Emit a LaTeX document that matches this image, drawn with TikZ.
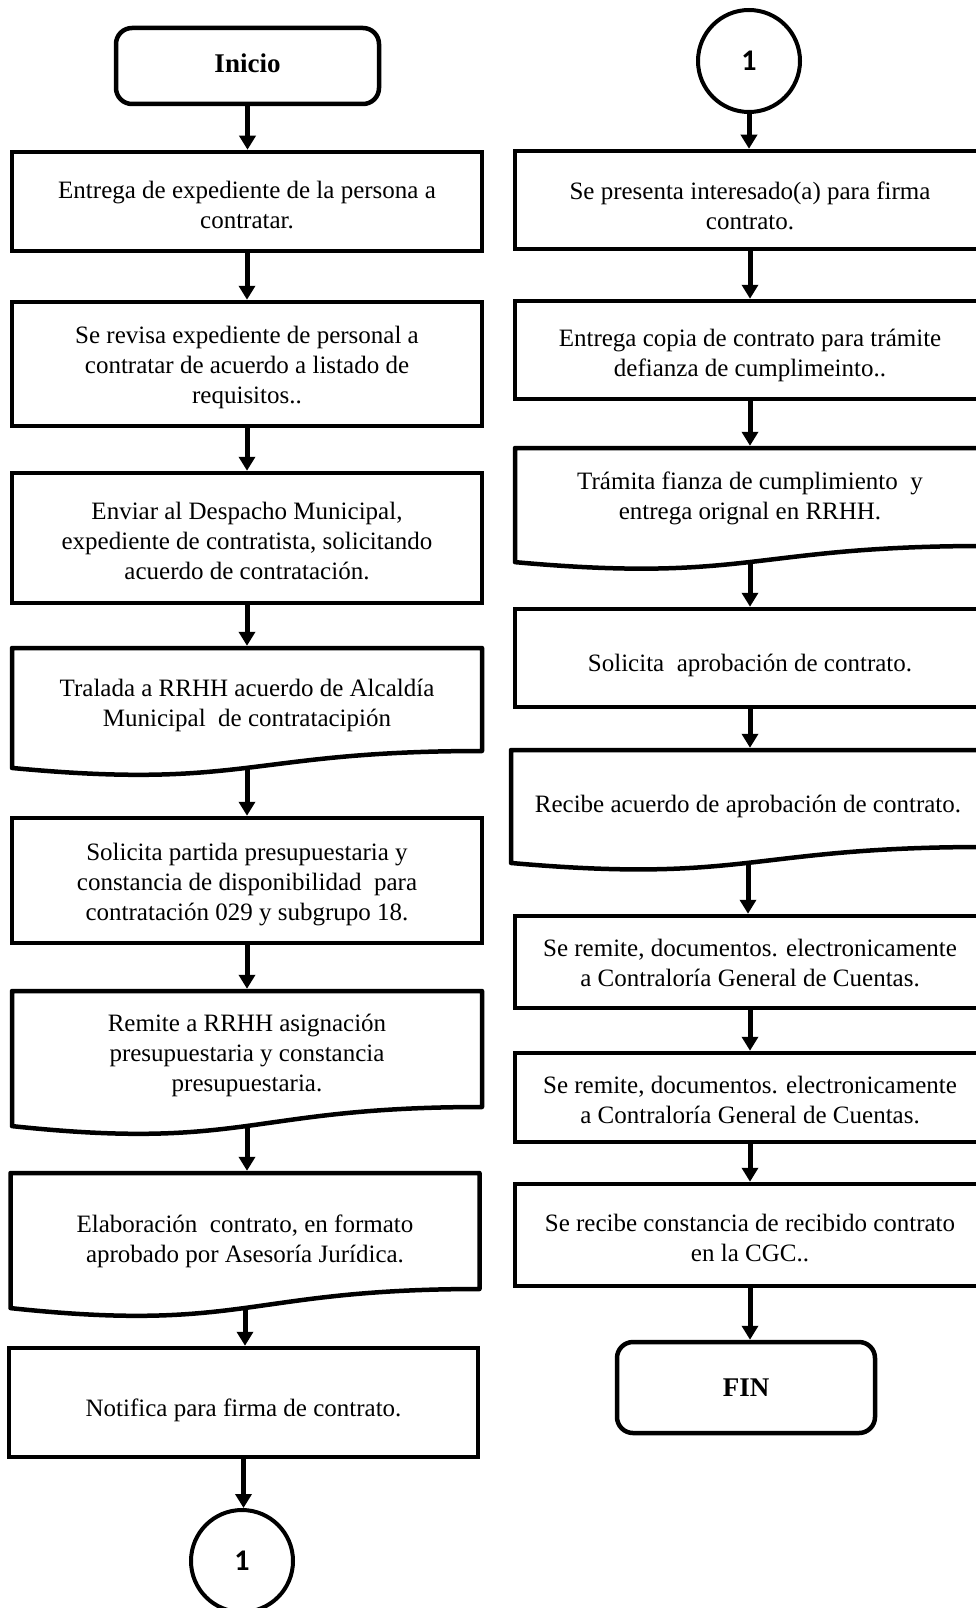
\documentclass[tikz,border=0pt]{standalone}
\usepackage{fontspec}
\setmainfont{Liberation Serif}
\newfontfamily\numfont{Carlito}
\usetikzlibrary{arrows.meta,calc}

% centred lines of text, set a little lower than the box centre
\newcommand\boxtext[2][4pt]{%
  \raisebox{-#1}[\height][\depth]{\begin{tabular}{@{}c@{}}#2\end{tabular}}}

\tikzset{
  body/.style={font=\fontsize{25}{30}\selectfont},
  proc/.style={body, draw, line width=4.5pt, rectangle, minimum width=470pt,
    inner sep=2pt},
  doctext/.style={body, rectangle, minimum width=470pt, inner sep=2pt,
    outer sep=0pt},
  term/.style={draw, line width=4.5pt, rounded corners=16pt, minimum width=263pt,
    minimum height=76pt, font=\fontsize{27}{30}\selectfont\bfseries},
  conn/.style={draw, circle, line width=4pt, minimum size=102pt, inner sep=0pt,
    font=\numfont\bfseries\fontsize{30}{34}\selectfont},
  flow/.style={line width=5pt, -{Triangle[width=16pt,length=14pt]}},
  todoc/.style={flow, shorten >=2.2pt},
  outline/.style={line width=4.5pt, line join=round}
}

% document symbol: flat top, wavy bottom edge below the text area
% #1 node name, #2 height of the text area
\newcommand\docoutline[2]{%
  \draw[outline] (#1.north west) -- (#1.north east) -- (#1.south east)
    .. controls (#1.south) and ($(#1.south)+(0,0.381*#2)$)
    .. ($(#1.south west)+(0,0.1646*#2)$) -- cycle;
  \coordinate (#1-foot) at ($(#1.south)+(0,0.1633*#2)$);
}

\begin{document}
\begin{tikzpicture}[x=1pt,y=-1pt]
\useasboundingbox (0,0) rectangle (976,1608);
\clip (0,0) rectangle (976,1608);

% ---------------- left column ----------------
\node[term] (inicio) at (247.5,66) {\boxtext[1pt]{Inicio}};
\node[proc, minimum height=99pt] (l1) at (247,201.5)
  {\boxtext[6.5pt]{Entrega de expediente de la persona a\\contratar.}};
\node[proc, minimum height=124pt] (l2) at (247,364)
  {\boxtext[3pt]{Se revisa expediente de personal a\\contratar de acuerdo a listado de\\requisitos..}};
\node[proc, minimum height=130pt] (l3) at (247,538)
  {\boxtext[5pt]{Enviar al Despacho Municipal,\\expediente de contratista, solicitando\\acuerdo de contratación.}};
\node[doctext, minimum height=103pt] (l4) at (247,699.5)
  {\boxtext[6pt]{Tralada a RRHH acuerdo de Alcaldía\\Municipal\ \ de contratacipión}};
\docoutline{l4}{103}
\node[proc, minimum height=125pt] (l5) at (247,880.5)
  {\boxtext[4pt]{Solicita partida presupuestaria y\\constancia de disponibilidad\ \ para\\contratación 029 y subgrupo 18.}};
\node[doctext, minimum height=116pt] (l6) at (247,1049)
  {\boxtext[6pt]{Remite a RRHH asignación\\presupuestaria y constancia\\presupuestaria.}};
\docoutline{l6}{116}
\node[doctext, minimum height=116pt, minimum width=469pt] (l7) at (245,1231)
  {\boxtext[10pt]{Elaboración\ \ contrato, en formato\\aprobado por Asesoría Jurídica.}};
\docoutline{l7}{116}
\node[proc, minimum height=109pt, minimum width=469pt] (l8) at (243.5,1402.5)
  {\boxtext[8pt]{Notifica para firma de contrato.}};
\node[conn] (c1) at (242,1561) {1};

\draw[flow] (inicio.south) -- (inicio.south |- l1.north);
\draw[flow] (l1.south) -- (l1.south |- l2.north);
\draw[flow] (l2.south) -- (l2.south |- l3.north);
\draw[todoc] (l3.south) -- (l3.south |- l4.north);
\draw[flow] (l4-foot) -- (l4-foot |- l5.north);
\draw[todoc] (l5.south) -- (l5.south |- l6.north);
\draw[todoc] (l6-foot) -- (l6-foot |- l7.north);
\draw[flow] (l7-foot) -- (l7-foot |- l8.north);
\draw[flow] (l8.south) -- (l8.south |- c1.north);

% ---------------- right column ----------------
\node[conn] (c2) at (749,61) {1};
\node[proc, minimum height=98pt] (r1) at (750,200)
  {\boxtext[8.5pt]{Se presenta interesado(a) para firma\\contrato.}};
\node[proc, minimum height=98pt] (r2) at (750,350)
  {\boxtext[5.5pt]{Entrega copia de contrato para trámite\\defianza de cumplimeinto..}};
\node[doctext, minimum height=98pt] (r3) at (750,497)
  {\boxtext[1pt]{Trámita fianza de cumplimiento\ \ y\\entrega orignal en RRHH.}};
\docoutline{r3}{98}
\node[proc, minimum height=98pt] (r4) at (750,658)
  {\boxtext[7pt]{Solicita\ \ aprobación de contrato.}};
\node[doctext, minimum height=97pt, minimum width=474pt] (r5) at (748,798.5)
  {\boxtext[8pt]{Recibe acuerdo de aprobación de contrato.}};
\docoutline{r5}{97}
\node[proc, minimum height=92pt] (r6) at (750,962)
  {\boxtext[3pt]{Se remite, documentos. electronicamente\\a Contraloría General de Cuentas.}};
\node[proc, minimum height=89pt] (r7) at (750,1097.5)
  {\boxtext[4.5pt]{Se remite, documentos. electronicamente\\a Contraloría General de Cuentas.}};
\node[proc, minimum height=102pt] (r8) at (750,1235)
  {\boxtext[5pt]{Se recibe constancia de recibido contrato\\en la CGC..}};
\node[term, minimum width=258pt, minimum height=91pt] (fin) at (746,1387.5)
  {\boxtext[3pt]{FIN}};

\draw[flow] (c2.south) -- (c2.south |- r1.north);
\draw[flow] (r1.south) -- (r1.south |- r2.north);
\draw[todoc] (r2.south) -- (r2.south |- r3.north);
\draw[flow] (r3-foot) -- (r3-foot |- r4.north);
\draw[todoc] (r4.south) -- (r4.south |- r5.north);
\draw[flow] (r5-foot) -- (r5-foot |- r6.north);
\draw[flow] (r6.south) -- (r6.south |- r7.north);
\draw[flow] (r7.south) -- (r7.south |- r8.north);
\draw[flow] (r8.south) -- (r8.south |- fin.north);
\end{tikzpicture}
\end{document}
